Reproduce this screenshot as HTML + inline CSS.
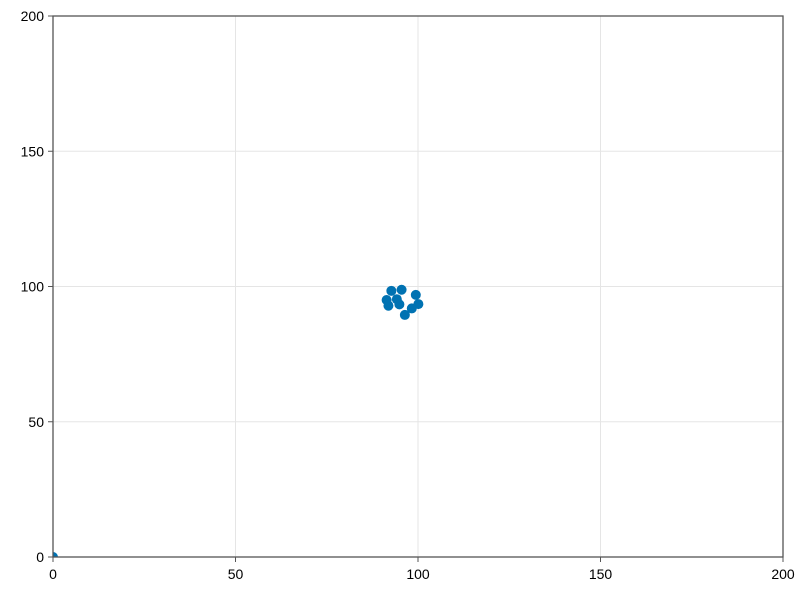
<!DOCTYPE html>
<html><head><meta charset="utf-8"><style>
body{margin:0;background:#fff;}
svg text{font-family:"Liberation Sans",sans-serif;font-size:14px;fill:#000;}
</style></head><body>
<svg id="chart" width="800" height="600" xmlns="http://www.w3.org/2000/svg">
<defs><clipPath id="plotclip"><rect x="53" y="16" width="730" height="541"/></clipPath></defs>
</svg>
<script>
const xValues=[0,92.7,95.5,91.4,91.9,94.2,94.9,99.4,100.1,98.3,96.4];
const yValues=[0,98.4,98.8,95.0,92.9,95.3,93.4,96.9,93.5,91.9,89.5];
const xTicks=[0,50,100,150,200];
const yTicks=[0,50,100,150,200];
const L=53,R=783,T=16,B=557;
const sx=v=>L+(v-0)/(200-0)*(R-L);
const sy=v=>B-(v-0)/(200-0)*(B-T);
const svg=document.getElementById('chart');
const NS='http://www.w3.org/2000/svg';
function mk(tag,attrs,parent){const e=document.createElementNS(NS,tag);for(const k in attrs)e.setAttribute(k,attrs[k]);(parent||svg).appendChild(e);return e;}
const grid=mk('g',{});


xTicks.forEach(t=>{const l=mk('line',{x1:sx(t),x2:sx(t),y1:T,y2:B,stroke:'#e5e5e5','stroke-width':1},grid);

});
yTicks.forEach(t=>{const l=mk('line',{x1:L,x2:R,y1:sy(t),y2:sy(t),stroke:'#e5e5e5','stroke-width':1},grid);

});
const pts=mk('g',{'clip-path':'url(#plotclip)'});


xValues.forEach((x,i)=>{const c=mk('circle',{cx:sx(x),cy:sy(yValues[i]),r:5,fill:'#0072b2'},pts);

});
const frame=mk('rect',{x:L,y:T,width:R-L,height:B-T,fill:'none',stroke:'#555','stroke-width':1.3});


xTicks.forEach(t=>{const tk=mk('line',{x1:sx(t),x2:sx(t),y1:B,y2:B+5,stroke:'#555'});


const tx=mk('text',{x:sx(t),y:B+22,'text-anchor':'middle'});tx.textContent=t;

});
yTicks.forEach(t=>{const tk=mk('line',{x1:L-5,x2:L,y1:sy(t),y2:sy(t),stroke:'#555'});


const tx=mk('text',{x:L-9,y:sy(t)+5,'text-anchor':'end'});tx.textContent=t;

});
</script>
</body></html>
